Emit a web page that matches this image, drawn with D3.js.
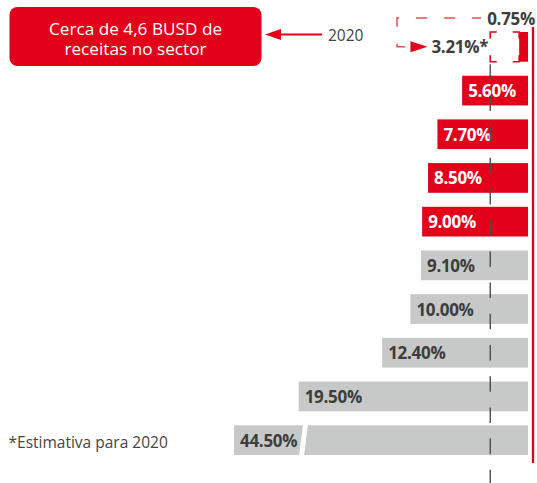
<!DOCTYPE html>
<html>
<head>
<meta charset="utf-8">
<script src="https://cdn.jsdelivr.net/npm/d3@7"></script>
<style>
  html, body { margin: 0; padding: 0; background: #ffffff; }
  svg { display: block; }
  text { font-family: "Open Sans", "Noto Sans", sans-serif; }
</style>
</head>
<body>
<div id="chart"></div>
<script>
// Market shares (%), one horizontal bar per row, top to bottom
const rows = ["2020", "r2", "r3", "r4", "r5", "r6", "r7", "r8", "r9", "r10"];
const shares = [0.75, 5.60, 7.70, 8.50, 9.00, 9.10, 10.00, 12.40, 19.50, 44.50];
const groups = ["hi", "hi", "hi", "hi", "hi", "lo", "lo", "lo", "lo", "lo"];
// 2020 estimate for the top row
const estimate2020 = 3.21;
// Callout texts
const calloutLines = ["Cerca de 4,6 BUSD de", "receitas no sector"];
const calloutYear = "2020";
const footnote = "*Estimativa para 2020";

const W = 537, H = 483;
const RED = "#e2001a", GREY = "#c7c8c8", INK = "#3d3d3d";
const LABEL_SIZE = 17;

const svg = d3.select("#chart").append("svg")
  .attr("width", W).attr("height", H);

// Bars grow leftwards from a common baseline; long bars are cut at the left edge
const x = d3.scaleLinear().domain([0, 25]).range([528, 234]).clamp(true);
const y = d3.scaleBand().domain(rows).range([32, 455]).paddingInner(0.32).paddingOuter(0);
const bw = y.bandwidth();
const fmt = v => d3.format(".2f")(v) + "%";

const data = rows.map((r, i) => ({ key: r, v: shares[i], g: groups[i] }));

// bars
svg.append("g").selectAll("rect").data(data).join("rect")
  .attr("x", d => x(d.v))
  .attr("y", d => y(d.key))
  .attr("width", d => x(0) - x(d.v))
  .attr("height", bw)
  .attr("fill", d => d.g === "hi" ? RED : GREY);

// axis break on bars that exceed the domain
const cut = data.filter(d => d.v > x.domain()[1]);
svg.append("g").selectAll("path").data(cut).join("path")
  .attr("d", d => {
    const bx = x(x.domain()[1]) + 67, t = y(d.key) - 1, b = y(d.key) + bw + 1;
    return `M${bx + 2},${t} L${bx + 7},${t} L${bx + 3},${b} L${bx - 2},${b} Z`;
  })
  .attr("fill", "#ffffff");

// value labels inside the bars (the top row is labelled above its bar)
svg.append("g").selectAll("text").data(data.slice(1)).join("text")
  .attr("x", d => x(d.v) + 6)
  .attr("y", d => y(d.key) + bw / 2 + 6.5)
  .attr("font-size", LABEL_SIZE)
  .attr("font-weight", 700)
  .attr("letter-spacing", -0.3)
  .attr("fill", d => d.g === "hi" ? "#ffffff" : INK)
  .text(d => fmt(d.v));

const topRow = data[0];
svg.append("text")
  .attr("x", x(0) + 7)
  .attr("y", y(topRow.key) - 7)
  .attr("text-anchor", "end")
  .attr("font-size", LABEL_SIZE).attr("font-weight", 700).attr("letter-spacing", -0.3)
  .attr("fill", INK)
  .text(fmt(topRow.v));

// estimate box for 2020: corner brackets from the estimate to the actual value
const ex0 = x(estimate2020), ex1 = x(topRow.v), ey0 = y(topRow.key), ey1 = y(topRow.key) + bw, arm = 6.5;
svg.append("path")
  .attr("d", [
    `M${ex0},${ey0 + arm} V${ey0} H${ex0 + arm}`,
    `M${ex1 - arm},${ey0} H${ex1} V${ey0 + arm}`,
    `M${ex0},${ey1 - arm} V${ey1} H${ex0 + arm}`,
    `M${ex1 - arm},${ey1} H${ex1} V${ey1 - arm}`
  ].join(" "))
  .attr("fill", "none").attr("stroke", RED).attr("stroke-width", 1.6);

const estLabel = svg.append("text")
  .attr("x", ex0 - 2)
  .attr("y", ey0 + bw / 2 + 6)
  .attr("text-anchor", "end")
  .attr("font-size", LABEL_SIZE).attr("font-weight", 700).attr("letter-spacing", -0.3)
  .attr("fill", INK)
  .text(fmt(estimate2020) + "*");
const estW = estLabel.node().getComputedTextLength();
const tipX = ex0 - 2 - estW - 4, cy = ey0 + bw / 2;
svg.append("path")
  .attr("d", `M${tipX},${cy} L${tipX - 17},${cy - 5.5} L${tipX - 17},${cy + 5.5} Z`)
  .attr("fill", RED);

// dashed bracket linking the two top-row figures
svg.append("path")
  .attr("d", `M405,${cy} H397 V18 H481`)
  .attr("fill", "none")
  .attr("stroke", "#ec4a57")
  .attr("stroke-width", 1.5)
  .attr("stroke-dasharray", "11 17");

// dashed guide at the 2020 estimate
svg.append("line")
  .attr("x1", ex0).attr("x2", ex0)
  .attr("y1", ey1).attr("y2", H)
  .attr("stroke", "#4d4d4d").attr("stroke-width", 1.4)
  .attr("stroke-dasharray", "15.5 15.7")
  .attr("stroke-dashoffset", 28.7);

// baseline rule
svg.append("line")
  .attr("x1", x(0) + 5).attr("x2", x(0) + 5)
  .attr("y1", 27).attr("y2", 463)
  .attr("stroke", RED).attr("stroke-width", 2.3);

// callout box with a two-line message
svg.append("rect")
  .attr("x", 9.5).attr("y", 7).attr("width", 252).attr("height", 59)
  .attr("rx", 8).attr("fill", RED);
svg.append("text")
  .attr("text-anchor", "middle")
  .attr("font-size", 17.2)
  .attr("fill", "#ffffff")
  .selectAll("tspan").data(calloutLines).join("tspan")
  .attr("x", 135.5)
  .attr("y", (d, i) => 35 + i * 19.5)
  .text(d => d);

// callout arrow and year
svg.append("line")
  .attr("x1", 322).attr("x2", 278)
  .attr("y1", 34.5).attr("y2", 34.5)
  .attr("stroke", RED).attr("stroke-width", 2);
svg.append("path")
  .attr("d", "M265,34.5 L281,29 L281,40 Z")
  .attr("fill", RED);
svg.append("text")
  .attr("x", 328).attr("y", 40.5)
  .attr("font-size", 15.5).attr("fill", "#444444")
  .text(calloutYear);

// footnote
svg.append("text")
  .attr("x", 8.5).attr("y", 448)
  .attr("font-size", 15.5).attr("fill", "#444444")
  .text(footnote);
</script>
</body>
</html>
